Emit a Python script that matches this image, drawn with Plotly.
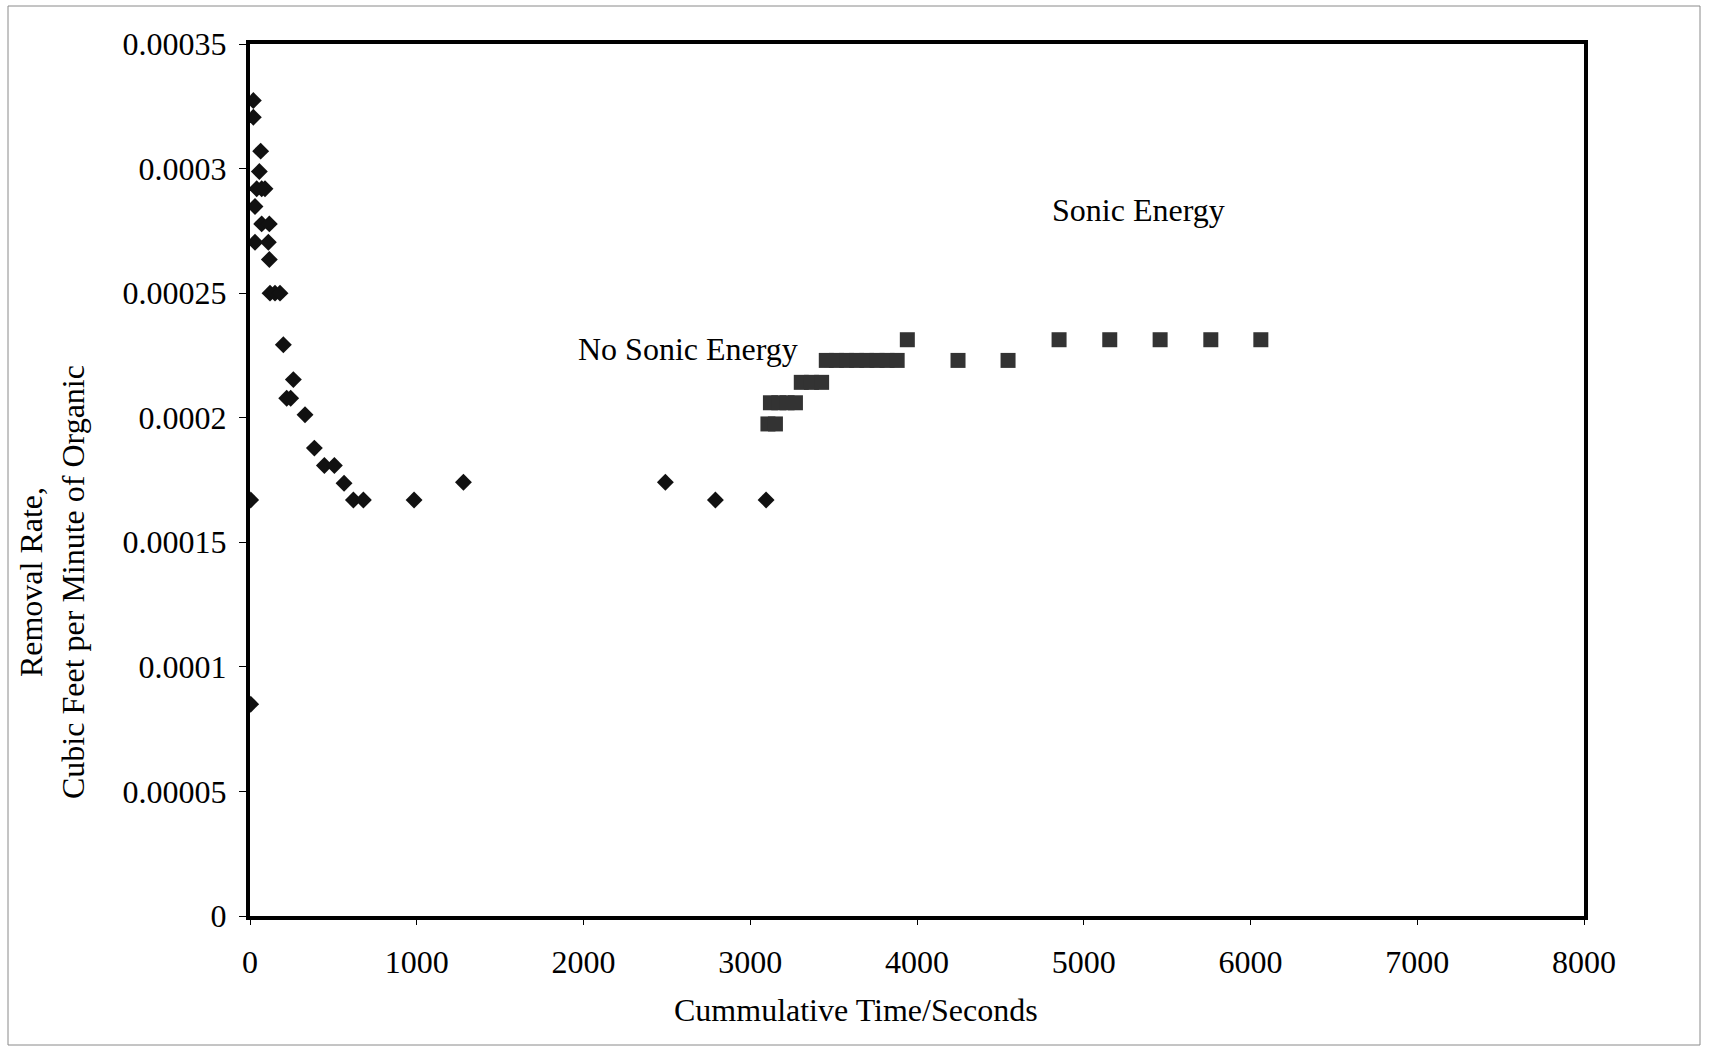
import plotly.graph_objects as go

# Removal rate without sonic energy (diamonds)
no_sonic_time = [4, 4, 20, 20, 30, 30, 40, 56, 64, 70, 70, 90, 110, 116, 116,
                 120, 150, 180, 200, 220, 244, 260, 330, 386, 446, 506, 564,
                 620, 680, 984, 1280, 2491, 2791, 3095]
no_sonic_rate = [0.0000850, 0.000167, 0.0003273, 0.0003206, 0.0002848, 0.0002704,
                 0.0002919, 0.0002988, 0.0003070, 0.0002919, 0.0002778, 0.0002919,
                 0.0002704, 0.0002778, 0.0002635, 0.000250, 0.000250, 0.000250,
                 0.0002293, 0.0002078, 0.0002078, 0.0002153, 0.0002012, 0.0001878,
                 0.0001808, 0.0001808, 0.0001737, 0.000167, 0.000167, 0.000167,
                 0.0001741, 0.0001741, 0.000167, 0.000167]

# Removal rate with sonic energy (squares)
sonic_time = [3106, 3151, 3121, 3171, 3221, 3271, 3306, 3367, 3428,
              3456, 3517, 3578, 3638, 3699, 3760, 3820, 3881, 3942,
              4246, 4546, 4852, 5156, 5458, 5762, 6062]
sonic_rate = [0.0001975, 0.0001975, 0.000206, 0.000206, 0.000206, 0.000206,
              0.0002142, 0.0002142, 0.0002142,
              0.000223, 0.000223, 0.000223, 0.000223, 0.000223, 0.000223,
              0.000223, 0.000223, 0.0002313,
              0.000223, 0.000223, 0.0002313, 0.0002313, 0.0002313, 0.0002313,
              0.0002313]

x_ticks = [0, 1000, 2000, 3000, 4000, 5000, 6000, 7000, 8000]
y_ticks = [0, 0.00005, 0.0001, 0.00015, 0.0002, 0.00025, 0.0003, 0.00035]
y_tick_text = ["0", "0.00005", "0.0001", "0.00015", "0.0002", "0.00025",
               "0.0003", "0.00035"]

FONT = "Liberation Serif"
FS = 32
W, H = 1709, 1050
ML, MR, MT, MB = 250, 125, 44, 134

fig = go.Figure()
fig.add_trace(go.Scatter(
    x=no_sonic_time, y=no_sonic_rate, mode="markers", name="No Sonic Energy",
    marker=dict(symbol="diamond", size=13, color="#111111",
                line=dict(width=0))))
fig.add_trace(go.Scatter(
    x=sonic_time, y=sonic_rate, mode="markers", name="Sonic Energy",
    marker=dict(symbol="square", size=15, color="#333333",
                line=dict(width=0))))

fig.add_annotation(x=2629, y=0.0002274, text="No Sonic Energy", showarrow=False,
                   font=dict(family=FONT, size=FS, color="black"))
fig.add_annotation(x=5330, y=0.0002835, text="Sonic Energy", showarrow=False,
                   font=dict(family=FONT, size=FS, color="black"))

pw = W - ML - MR
ph = H - MT - MB

# axis titles placed as annotations
fig.add_annotation(xref="paper", yref="paper",
                   x=(52 - ML) / pw, y=(H - MB - 582) / ph,
                   text="Removal Rate,<br>Cubic Feet per Minute of Organic",
                   textangle=-90, showarrow=False, xanchor="center", yanchor="middle",
                   font=dict(family=FONT, size=FS, color="black"))
fig.add_annotation(xref="paper", yref="paper",
                   x=(856 - ML) / pw, y=(H - MB - 1010) / ph,
                   text="Cummulative Time/Seconds",
                   showarrow=False, xanchor="center", yanchor="middle",
                   font=dict(family=FONT, size=FS, color="black"))

# thin outer frame around the whole chart
fig.add_shape(type="rect", xref="paper", yref="paper",
              x0=(8 - ML) / pw, x1=(1700 - ML) / pw,
              y0=(H - MB - 1045) / ph, y1=(H - MB - 6) / ph,
              line=dict(color="#8a8a8a", width=1), layer="below")

fig.update_layout(
    width=W, height=H,
    margin=dict(l=ML, r=MR, t=MT, b=MB),
    paper_bgcolor="white", plot_bgcolor="white",
    showlegend=False,
    font=dict(family=FONT, size=FS, color="black"),
    xaxis=dict(range=[0, 8000], tickvals=x_ticks, ticks="outside", ticklen=5,
               tickwidth=1, tickcolor="black", showgrid=False, zeroline=False,
               showline=True, linewidth=4, linecolor="black", mirror=True,
               ticklabelstandoff=10,
               tickfont=dict(family=FONT, size=FS)),
    yaxis=dict(range=[0, 0.00035], tickvals=y_ticks, ticktext=y_tick_text,
               ticks="outside", ticklen=7, tickwidth=1, tickcolor="black",
               showgrid=False, zeroline=False, showline=True, linewidth=4,
               linecolor="black", mirror=True, ticklabelstandoff=6,
               tickfont=dict(family=FONT, size=FS)),
)

fig.write_html("out.html")
